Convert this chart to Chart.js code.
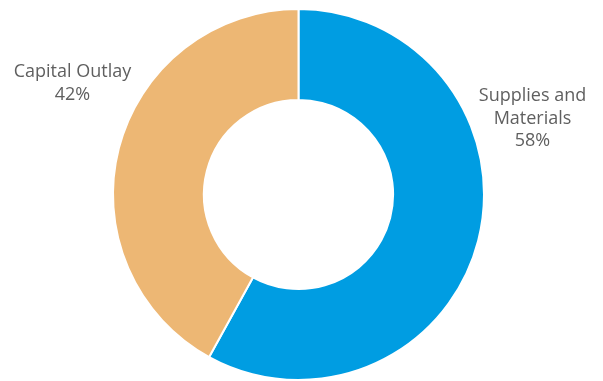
<!DOCTYPE html>
<html>
<head>
<meta charset="utf-8">
<script src="https://cdn.jsdelivr.net/npm/chart.js@4.4.0/dist/chart.umd.min.js"></script>
<style>
  html, body { margin: 0; padding: 0; background: #fff; }
  #wrap { width: 603px; height: 381px; }
</style>
</head>
<body>
<div id="wrap"><canvas id="chart"></canvas></div>
<script>
const categories = [["Supplies and", "Materials"], ["Capital Outlay"]];
const shares = [58, 42];
const sliceColors = ["#009de2", "#edb774"];

// label centre offsets from the doughnut centre, in px
const labelOffsets = [
  { dx: 234, dy: -76 },
  { dx: -226, dy: -111 },
];

const outsideLabels = {
  id: "outsideLabels",
  afterDatasetsDraw(chart) {
    const ctx = chart.ctx;
    const meta = chart.getDatasetMeta(0);
    ctx.save();
    ctx.font = '18px "Open Sans", sans-serif';
    ctx.fillStyle = "#5f5f5f";
    ctx.textAlign = "center";
    ctx.textBaseline = "middle";
    meta.data.forEach((arc, i) => {
      const lines = categories[i].concat([shares[i] + "%"]);
      const lh = 22.5;
      const cx = arc.x + labelOffsets[i].dx;
      const cy = arc.y + labelOffsets[i].dy - ((lines.length - 1) * lh) / 2;
      lines.forEach((t, j) => ctx.fillText(t, cx, cy + j * lh));
    });
    ctx.restore();
  },
};

new Chart(document.getElementById("chart"), {
  type: "doughnut",
  data: {
    labels: categories.map((c) => c.join(" ")),
    datasets: [
      {
        data: shares,
        backgroundColor: sliceColors,
        borderColor: "#ffffff",
        borderWidth: 2,
      },
    ],
  },
  options: {
    responsive: true,
    maintainAspectRatio: false,
    animation: false,
    cutout: "51%",
    layout: { padding: { top: 8, bottom: 0, left: 0, right: 6 } },
    plugins: {
      legend: { display: false },
      tooltip: { enabled: false },
    },
  },
  plugins: [outsideLabels],
});
</script>
</body>
</html>
